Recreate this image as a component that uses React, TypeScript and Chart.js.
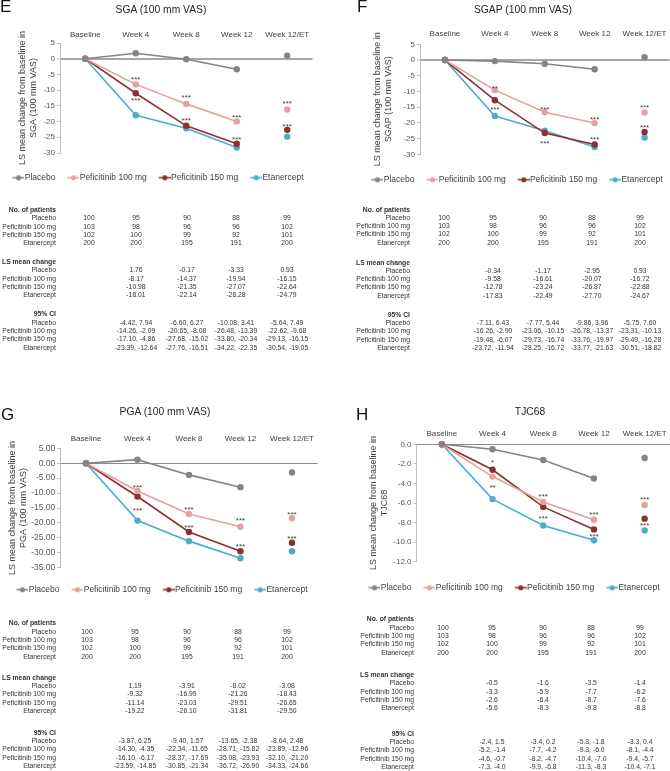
import React, { useEffect, useRef } from 'react';
import { Chart, registerables } from 'chart.js';

Chart.register(...registerables);

const FONT = '"Liberation Sans", Arial, Helvetica, sans-serif';

// ---------- shared data ----------
const categories = ['Baseline', 'Week 4', 'Week 8', 'Week 12', 'Week 12/ET'];
const seriesNames = ['Placebo', 'Peficitinib 100 mg', 'Peficitinib 150 mg', 'Etanercept'];
const seriesColors = ['#848484', '#E3A19F', '#8F2E2E', '#4BADC6'];
const baselineValue = 0;

const patientsPlacebo = [100, 95, 90, 88, 99];
const patients100 = [103, 98, 96, 96, 102];
const patients150 = [102, 100, 99, 92, 101];
const patientsEtanercept = [200, 200, 195, 191, 200];

// ---------- E: SGA ----------
const sgaPlacebo = [1.76, -0.17, -3.33, 0.93];
const sga100 = [-8.17, -14.37, -19.94, -16.15];
const sga150 = [-10.98, -21.35, -27.07, -22.64];
const sgaEtanercept = [-18.01, -22.14, -28.28, -24.79];
const sgaCIPlacebo = [[-4.42, 7.94], [-6.6, 6.27], [-10.08, 3.41], [-5.64, 7.49]];
const sgaCI100 = [[-14.26, -2.09], [-20.65, -8.08], [-26.48, -13.39], [-22.62, -9.68]];
const sgaCI150 = [[-17.1, -4.86], [-27.68, -15.02], [-33.8, -20.34], [-29.13, -16.15]];
const sgaCIEtanercept = [[-23.39, -12.64], [-27.76, -16.51], [-34.22, -22.35], [-30.54, -19.05]];
const sgaSig100 = ['', '***', '***', '***', '***'];
const sgaSig150 = ['', '***', '***', '***', '***'];
const sgaTickLabels = ['5', '0', '-5', '-10', '-15', '-20', '-25', '-30'];

// ---------- F: SGAP ----------
const sgapPlacebo = [-0.34, -1.17, -2.95, 0.93];
const sgap100 = [-9.58, -16.61, -20.07, -16.72];
const sgap150 = [-12.78, -23.24, -26.87, -22.88];
const sgapEtanercept = [-17.83, -22.49, -27.7, -24.67];
const sgapCIPlacebo = [[-7.11, 6.43], [-7.77, 5.44], [-9.86, 3.96], [-5.75, 7.6]];
const sgapCI100 = [[-16.26, -2.9], [-23.06, -10.15], [-26.78, -13.37], [-23.31, -10.13]];
const sgapCI150 = [[-19.48, -6.07], [-29.73, -16.74], [-33.76, -19.97], [-29.49, -16.28]];
const sgapCIEtanercept = [[-23.72, -11.94], [-28.25, -16.72], [-33.77, -21.63], [-30.51, -18.82]];
const sgapSig100 = ['', '**', '***', '***', '***'];
const sgapSig150 = ['', '***', '***', '***', '***'];
const sgapTickLabels = ['5', '0', '-5', '-10', '-15', '-20', '-25', '-30'];

// ---------- G: PGA ----------
const pgaPlacebo = [1.19, -3.91, -8.02, -3.08];
const pga100 = [-9.32, -16.99, -21.26, -18.43];
const pga150 = [-11.14, -23.03, -29.51, -26.65];
const pgaEtanercept = [-19.22, -26.1, -31.81, -29.5];
const pgaCIPlacebo = [[-3.87, 6.25], [-9.4, 1.57], [-13.65, -2.38], [-8.64, 2.48]];
const pgaCI100 = [[-14.3, -4.35], [-22.34, -11.65], [-28.71, -15.82], [-23.89, -12.96]];
const pgaCI150 = [[-16.1, -6.17], [-28.37, -17.69], [-35.08, -23.93], [-32.1, -21.2]];
const pgaCIEtanercept = [[-23.59, -14.85], [-30.85, -21.34], [-36.72, -26.9], [-34.33, -24.66]];
const pgaSig100 = ['', '***', '***', '***', '***'];
const pgaSig150 = ['', '***', '***', '***', '***'];
const pgaTickLabels = ['5.00', '0.00', '-5.00', '-10.00', '-15.00', '-20.00', '-25.00', '-30.00', '-35.00'];

// ---------- H: TJC68 ----------
const tjcPlacebo = [-0.5, -1.6, -3.5, -1.4];
const tjc100 = [-3.3, -5.9, -7.7, -6.2];
const tjc150 = [-2.6, -6.4, -8.7, -7.6];
const tjcEtanercept = [-5.6, -8.3, -9.8, -8.8];
const tjcCIPlacebo = [[-2.4, 1.5], [-3.4, 0.2], [-5.3, -1.8], [-3.3, 0.4]];
const tjcCI100 = [[-5.2, -1.4], [-7.7, -4.2], [-9.3, -6.0], [-8.1, -4.4]];
const tjcCI150 = [[-4.6, -0.7], [-8.2, -4.7], [-10.4, -7.0], [-9.4, -5.7]];
const tjcCIEtanercept = [[-7.3, -4.0], [-9.9, -6.8], [-11.3, -8.3], [-10.4, -7.1]];
const tjcSig100 = ['', '**', '***', '***', '***'];
const tjcSig150 = ['', '*', '***', '***', '***'];
const tjcTickLabels = ['0.0', '-2.0', '-4.0', '-6.0', '-8.0', '-10.0', '-12.0'];

// ---------- panel definitions (content + layout) ----------
type Layout = {
  area: { left: number; right: number; top: number; bottom: number };
  labelY: number;
  yTitleX: number;
  legendCx: number;
  legendY: number;
  zeroColor: string;
  zeroWidth: number;
  tickFont: number;
  off100: number[];
  off150: number[];
  letterX: number;
  letterTop: number;
  titleX: number;
  titleY: number;
  table: { labelRight: number; cols: number[]; heads: number[] };
};

type PanelDef = {
  letter: string;
  title: string;
  yTitle: string[];
  series: number[][];
  ci: number[][][];
  sig100: string[];
  sig150: string[];
  tickLabels: string[];
  dec: number;
  layout: Layout;
};

const panels: PanelDef[] = [
  {
    letter: 'E',
    title: 'SGA (100 mm VAS)',
    yTitle: ['LS mean change from baseline in', 'SGA (100 mm VAS)'],
    series: [sgaPlacebo, sga100, sga150, sgaEtanercept],
    ci: [sgaCIPlacebo, sgaCI100, sgaCI150, sgaCIEtanercept],
    sig100: sgaSig100,
    sig150: sgaSig150,
    tickLabels: sgaTickLabels,
    dec: 2,
    layout: {
      area: { left: 60, right: 312.5, top: 43, bottom: 153 },
      labelY: 35, yTitleX: 22.5, legendCx: 158, legendY: 178,
      zeroColor: '#a6a6a6', zeroWidth: 2, tickFont: 8,
      off100: [0, -7, -9, -6, -8], off150: [0, 5, -8, -6, -6],
      letterX: 0, letterTop: -2.6, titleX: 161, titleY: 10,
      table: { labelRight: 56, cols: [89, 136, 187, 236, 287], heads: [209, 261, 313.3] },
    },
  },
  {
    letter: 'F',
    title: 'SGAP (100 mm VAS)',
    yTitle: ['LS mean change from baseline in', 'SGAP (100 mm VAS)'],
    series: [sgapPlacebo, sgap100, sgap150, sgapEtanercept],
    ci: [sgapCIPlacebo, sgapCI100, sgapCI150, sgapCIEtanercept],
    sig100: sgapSig100,
    sig150: sgapSig150,
    tickLabels: sgapTickLabels,
    dec: 2,
    layout: {
      area: { left: 420, right: 669.5, top: 44.3, bottom: 154.3 },
      labelY: 34, yTitleX: 378, legendCx: 517, legendY: 180,
      zeroColor: '#a6a6a6', zeroWidth: 2, tickFont: 8,
      off100: [0, -4, -5, -6, -7], off150: [0, 7, 8, -7, -7],
      letterX: 357, letterTop: -2.6, titleX: 523, titleY: 10,
      table: { labelRight: 410, cols: [444, 493, 543, 592, 640], heads: [208.5, 261.5, 313.8] },
    },
  },
  {
    letter: 'G',
    title: 'PGA (100 mm VAS)',
    yTitle: ['LS mean change from baseline in', 'PGA (100 mm VAS)'],
    series: [pgaPlacebo, pga100, pga150, pgaEtanercept],
    ci: [pgaCIPlacebo, pgaCI100, pgaCI150, pgaCIEtanercept],
    sig100: pgaSig100,
    sig150: pgaSig150,
    tickLabels: pgaTickLabels,
    dec: 2,
    layout: {
      area: { left: 60.25, right: 317.75, top: 448.3, bottom: 567.7 },
      labelY: 438.3, yTitleX: 13, legendCx: 161.5, legendY: 590,
      zeroColor: '#8c8c8c', zeroWidth: 1, tickFont: 8.5,
      off100: [0, -6, -7, -8, -6], off150: [0, 11.5, -7, -7, -6],
      letterX: 1, letterTop: 405, titleX: 165, titleY: 412,
      table: { labelRight: 56, cols: [87, 135, 187, 238, 287], heads: [622.3, 676.7, 731.7] },
    },
  },
  {
    letter: 'H',
    title: 'TJC68',
    yTitle: ['LS mean change from baseline in', 'TJC68'],
    series: [tjcPlacebo, tjc100, tjc150, tjcEtanercept],
    ci: [tjcCIPlacebo, tjcCI100, tjcCI150, tjcCIEtanercept],
    sig100: tjcSig100,
    sig150: tjcSig150,
    tickLabels: tjcTickLabels,
    dec: 1,
    layout: {
      area: { left: 416.5, right: 670, top: 444.3, bottom: 561.7 },
      labelY: 434, yTitleX: 374, legendCx: 514, legendY: 588,
      zeroColor: '#8c8c8c', zeroWidth: 1, tickFont: 8,
      off100: [0, 9, -8, -7, -8], off150: [0, -9, 9, 5, 4.5],
      letterX: 356, letterTop: 405, titleX: 530, titleY: 411.5,
      table: { labelRight: 414, cols: [443, 492, 543, 591, 640], heads: [618.3, 674, 732.7] },
    },
  },
];

const CANVAS_W = 340;
const LEGEND_PAD = 12;
const LEGEND_FONT = 8.5;

function makeMarker(color: string): HTMLCanvasElement {
  const c = document.createElement('canvas');
  c.width = 16;
  c.height = 7;
  const g = c.getContext('2d');
  if (g) {
    g.strokeStyle = color;
    g.lineWidth = 1.5;
    g.beginPath();
    g.moveTo(4, 3.5);
    g.lineTo(16, 3.5);
    g.stroke();
    g.fillStyle = color;
    g.beginPath();
    g.arc(10, 3.5, 2.6, 0, Math.PI * 2);
    g.fill();
  }
  return c;
}

function geometry(L: Layout) {
  const cL = Math.round(L.legendCx - CANVAS_W / 2);
  const cT = Math.round(L.area.top) - 22;
  const legendBase = LEGEND_FONT + LEGEND_PAD + 10; // item height + padding + 10
  const wantTitleH = L.legendY - L.area.bottom - LEGEND_PAD - LEGEND_FONT / 2;
  const cH = Math.round(L.area.bottom - cT + wantTitleH + legendBase);
  const titleH = cH - (L.area.bottom - cT) - legendBase;
  return { cL, cT, cH, titleH };
}

function ChartPanel({ p }: { p: PanelDef }) {
  const ref = useRef<HTMLCanvasElement | null>(null);
  const L = p.layout;
  const g = geometry(L);

  useEffect(() => {
    if (!ref.current) return;
    const markers = seriesColors.map(makeMarker);
    const tickValues = p.tickLabels.map((t) => parseFloat(t));
    const yMax = Math.max(...tickValues);
    const yMin = Math.min(...tickValues);
    const lh = 9 * 1.2;

    const sigPlugin = {
      id: 'sig' + p.letter,
      afterDatasetsDraw(chart: any) {
        const ctx = chart.ctx;
        ctx.save();
        ctx.font = `8px ${FONT}`;
        ctx.fillStyle = '#404040';
        ctx.textAlign = 'center';
        ctx.textBaseline = 'alphabetic';
        const groups: [number, string[], number[]][] = [
          [1, p.sig100, L.off100],
          [2, p.sig150, L.off150],
        ];
        groups.forEach(([di, texts, offs]) => {
          const meta = chart.getDatasetMeta(di);
          texts.forEach((t, i) => {
            if (!t) return;
            const el = meta.data[i];
            if (!el) return;
            ctx.fillText(t, el.x, el.y + offs[i] + 4.7);
          });
        });
        ctx.restore();
      },
    };

    const datasets = p.series.map((vals, si) => {
      const color = seriesColors[si];
      return {
        label: seriesNames[si],
        data: [baselineValue, ...vals],
        borderColor: color,
        backgroundColor: color,
        pointBackgroundColor: color,
        pointBorderColor: color,
        pointBorderWidth: 0,
        pointRadius: 3.2,
        borderWidth: 1.6,
        tension: 0,
        clip: false as any,
        xAxisID: 'x',
        yAxisID: 'y',
        segment: {
          borderColor: (c: any) => (c.p1DataIndex === 4 ? 'rgba(0,0,0,0)' : color),
        },
      };
    });

    const chart = new Chart(ref.current, {
      type: 'line',
      data: { labels: categories, datasets },
      options: {
        responsive: false,
        animation: false,
        layout: { padding: 0 },
        scales: {
          x: {
            type: 'category',
            position: 'top',
            offset: true,
            grid: { display: false, drawTicks: false },
            border: { display: false },
            ticks: {
              font: { family: FONT, size: 8 },
              color: '#404040',
              padding: L.area.top - L.labelY - 4.8,
              autoSkip: false,
              maxRotation: 0,
            },
            afterFit: (s: any) => {
              s.height = L.area.top - g.cT;
            },
          },
          y: {
            type: 'linear',
            position: 'left',
            min: yMin,
            max: yMax,
            afterBuildTicks: (s: any) => {
              s.ticks = tickValues.map((v) => ({ value: v }));
            },
            afterFit: (s: any) => {
              s.width = L.area.left - g.cL;
            },
            ticks: {
              font: { family: FONT, size: L.tickFont },
              color: '#595959',
              padding: 2,
              callback: (_v: any, i: number) => p.tickLabels[i],
            },
            grid: {
              drawOnChartArea: true,
              drawTicks: true,
              tickLength: 3,
              tickColor: '#bfbfbf',
              tickWidth: 1,
              color: (c: any) => (c.tick && c.tick.value === 0 ? L.zeroColor : 'rgba(0,0,0,0)'),
              lineWidth: (c: any) => (c.tick && c.tick.value === 0 ? L.zeroWidth : 1),
            },
            border: { display: true, color: '#bfbfbf', width: 1 },
            title: {
              display: true,
              text: p.yTitle,
              font: { family: FONT, size: 9, lineHeight: 1.2 },
              color: '#404040',
              padding: { top: L.yTitleX - g.cL - lh / 2, bottom: 0 },
            },
          },
          yR: {
            type: 'linear',
            position: 'right',
            display: true,
            grid: { display: false, drawTicks: false },
            border: { display: false },
            ticks: { display: false },
            afterFit: (s: any) => {
              s.width = Math.max(0, g.cL + CANVAS_W - L.area.right);
            },
          },
        },
        plugins: {
          title: { display: false },
          tooltip: { enabled: false },
          legend: {
            display: true,
            position: 'bottom',
            align: 'center',
            title: {
              display: true,
              text: '',
              font: { size: 1, lineHeight: 1 },
              padding: { top: g.titleH - 1, bottom: 0 },
            },
            labels: {
              usePointStyle: true,
              pointStyleWidth: 8,
              padding: LEGEND_PAD,
              color: '#404040',
              font: { family: FONT, size: LEGEND_FONT },
              generateLabels: (chart: any) => {
                const items = (Chart.defaults.plugins.legend.labels as any).generateLabels(chart);
                return items.map((it: any, i: number) => ({ ...it, pointStyle: markers[i] }));
              },
            },
          },
        },
      } as any,
      plugins: [sigPlugin],
    });
    return () => chart.destroy();
  }, []);

  return (
    <canvas
      ref={ref}
      width={CANVAS_W}
      height={g.cH}
      style={{ position: 'absolute', left: g.cL, top: g.cT, width: CANVAS_W, height: g.cH }}
    />
  );
}

const PITCH = 8.33;
const TABLE_FONT = 6.8;

function Tables({ p }: { p: PanelDef }) {
  const T = p.layout.table;
  const els: React.ReactNode[] = [];
  const base: React.CSSProperties = {
    position: 'absolute',
    whiteSpace: 'nowrap',
    fontSize: TABLE_FONT,
    lineHeight: '9px',
    color: '#333',
  };
  const right = (key: string, text: string, y: number, bold = false) =>
    els.push(
      <span key={key} style={{ ...base, left: T.labelRight, top: y, transform: 'translate(-100%,-50%)', fontWeight: bold ? 700 : 400 }}>
        {text}
      </span>
    );
  const center = (key: string, text: string, x: number, y: number) =>
    els.push(
      <span key={key} style={{ ...base, left: x, top: y, transform: 'translate(-50%,-50%)' }}>
        {text}
      </span>
    );
  const patients = [patientsPlacebo, patients100, patients150, patientsEtanercept];
  const sections = ['No. of patients', 'LS mean change', '95% CI'];
  sections.forEach((head, s) => {
    const hy = T.heads[s];
    right(`h${s}`, head, hy, true);
    seriesNames.forEach((name, r) => {
      const y = hy + PITCH * (r + 1);
      right(`l${s}-${r}`, name, y);
      if (s === 0) {
        patients[r].forEach((n, c) => center(`v${s}-${r}-${c}`, String(n), T.cols[c], y));
      } else if (s === 1) {
        p.series[r].forEach((v, c) => center(`v${s}-${r}-${c}`, v.toFixed(p.dec), T.cols[c + 1], y));
      } else {
        p.ci[r].forEach((v, c) =>
          center(`v${s}-${r}-${c}`, `${v[0].toFixed(p.dec)}, ${v[1].toFixed(p.dec)}`, T.cols[c + 1], y)
        );
      }
    });
  });
  return <>{els}</>;
}

function Panel({ p }: { p: PanelDef }) {
  const L = p.layout;
  return (
    <>
      <ChartPanel p={p} />
      <div style={{ position: 'absolute', left: 0, top: 0, width: 670, height: 771, willChange: 'transform' }}>
        <div
          style={{
            position: 'absolute',
            left: L.letterX,
            top: L.letterTop,
            fontSize: 17,
            lineHeight: '20px',
            color: '#111',
          }}
        >
          {p.letter}
        </div>
        <div
          style={{
            position: 'absolute',
            left: L.titleX,
            top: L.titleY - 6,
            transform: 'translateX(-50%)',
            fontSize: 10.3,
            lineHeight: '12px',
            color: '#262626',
            whiteSpace: 'nowrap',
          }}
        >
          {p.title}
        </div>
        <Tables p={p} />
      </div>
    </>
  );
}

export default function App() {
  return (
    <div
      style={{
        position: 'absolute',
        left: 0,
        top: 0,
        width: 670,
        height: 771,
        overflow: 'hidden',
        background: '#fff',
        fontFamily: FONT,
      }}
    >
      {panels.map((p) => (
        <Panel key={p.letter} p={p} />
      ))}
    </div>
  );
}
